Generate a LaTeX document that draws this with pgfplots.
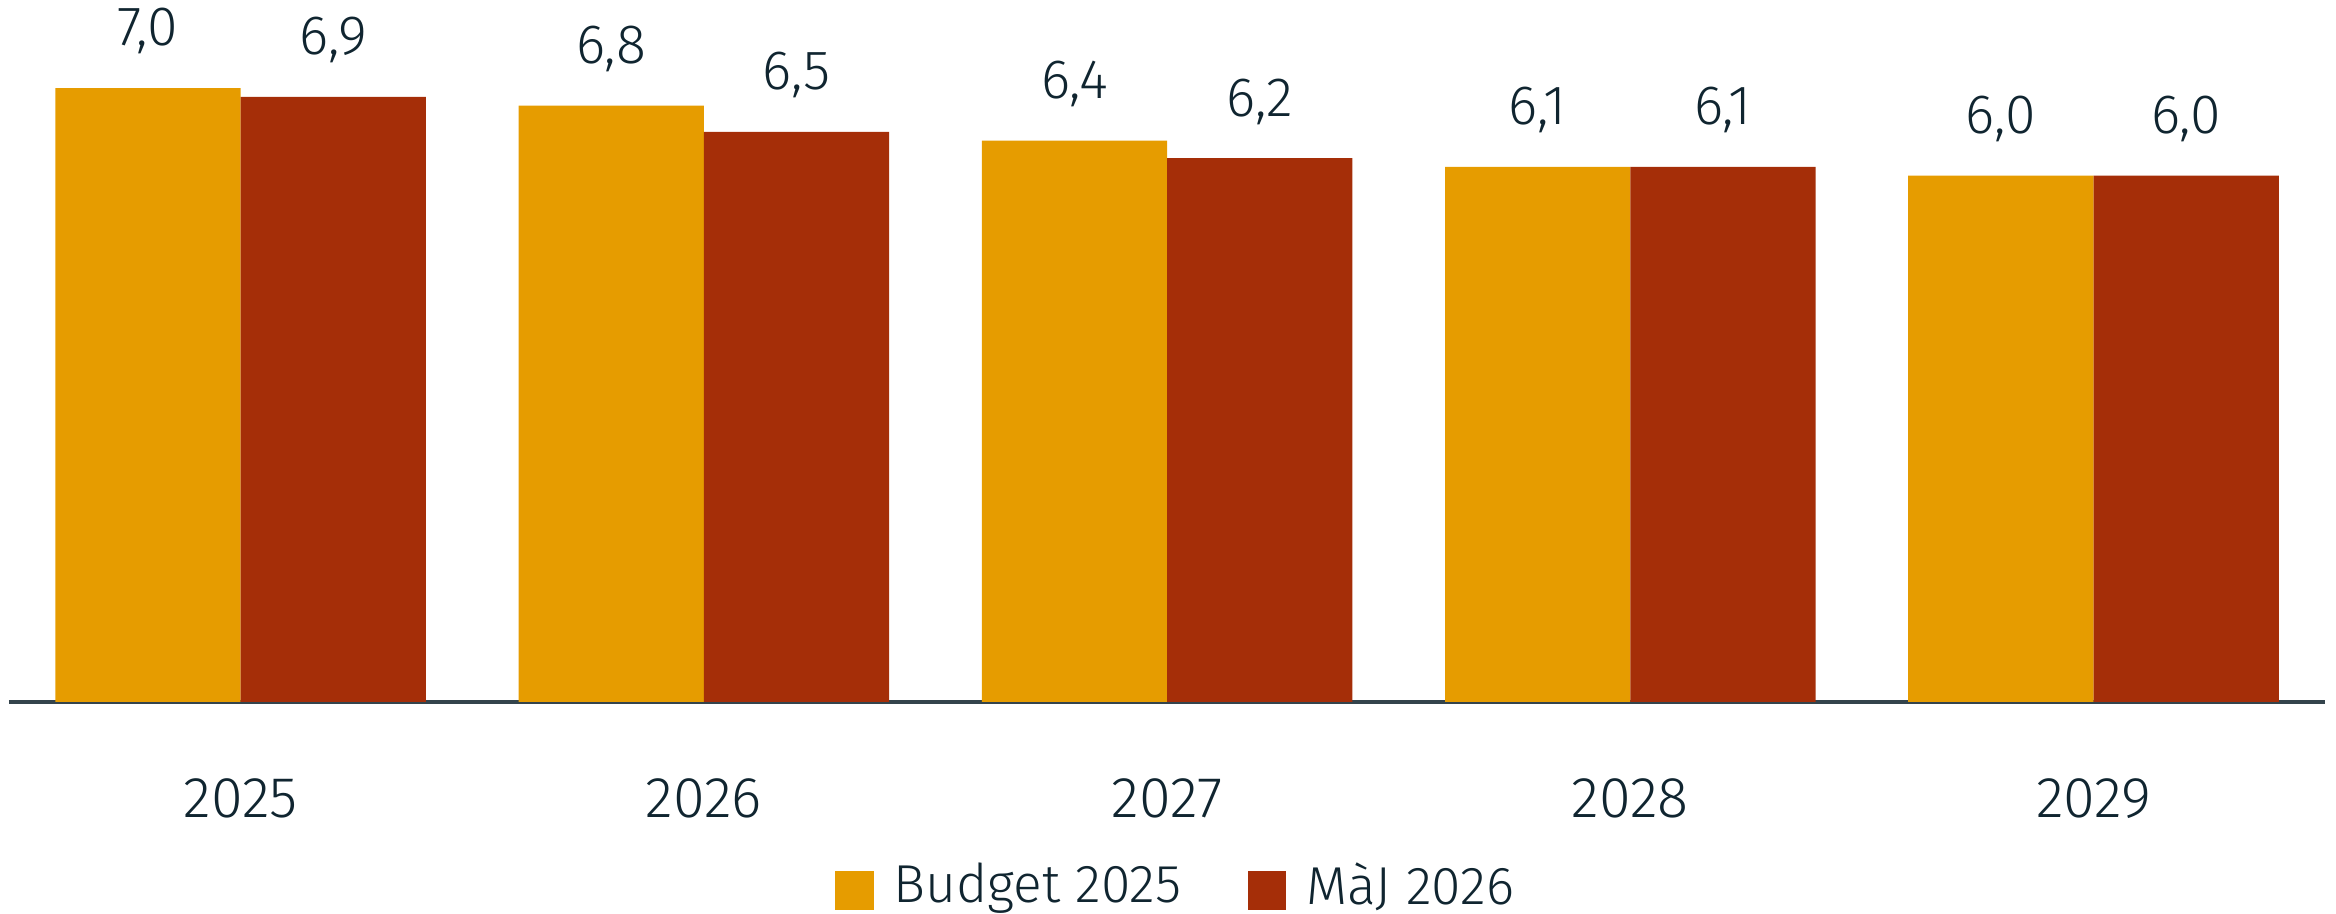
\documentclass[border=0pt]{standalone}
\usepackage{pgfplots}
\pgfplotsset{compat=1.18}
\usepackage{fontspec}
\setmainfont{Fira Sans}[UprightFont=* Light]
\definecolor{budget}{HTML}{E69C00}
\definecolor{maj}{HTML}{A52E08}
\definecolor{txt}{HTML}{102530}
\definecolor{axisline}{HTML}{34444C}
\pgfplotstableread{
x budget blab maj mlab
0 7.0 7,0 6.9 6,9
1 6.8 6,8 6.5 6,5
2 6.4 6,4 6.2 6,2
3 6.1 6,1 6.1 6,1
4 6.0 6,0 6.0 6,0
}\depenses
\begin{document}
\begin{tikzpicture}
    \useasboundingbox (-0.077,-1.815) rectangle (19.923,6.01);
    \begin{axis}[
        scale only axis, width=19.83cm, height=5.632cm,
        xmin=-0.5, xmax=4.5, ymin=0, ymax=7.5,
        axis x line=bottom, axis y line=none,
        axis line style={-, axisline, line width=0.75pt},
        xtick=data, xticklabels={2025,2026,2027,2028,2029},
        major tick length=0pt,
        xticklabel style={anchor=base, yshift=-0.99cm,
            font=\fontsize{14}{16}\selectfont, text=txt},
        ybar, bar width=0.4,
        point meta=explicit symbolic,
        nodes near coords,
        nodes near coords style={anchor=base, yshift=0.36cm,
            font=\fontsize{13.5}{16}\selectfont, text=txt},
        clip=false,
        legend style={draw=none, fill=none, at={(0.5,0)}, anchor=south,
            yshift=-1.86cm, xshift=0.1cm, legend columns=2, inner sep=0pt,
            font=\fontsize{13}{16}\selectfont, text=txt,
            /tikz/every odd column/.append style={column sep=0.1cm},
            /tikz/every even column/.append style={column sep=0.5cm}},
        legend image code/.code={
            \fill[#1] (0cm,-0.2cm) rectangle (0.33cm,0.13cm);},
    ]
        \addplot[fill=budget, draw=none, bar shift=-0.2]
            table[x=x, y=budget, meta=blab] {\depenses};
        \addplot[fill=maj, draw=none, bar shift=0.2]
            table[x=x, y=maj, meta=mlab] {\depenses};
        \legend{Budget 2025, MàJ 2026}
    \end{axis}
\end{tikzpicture}
\end{document}
